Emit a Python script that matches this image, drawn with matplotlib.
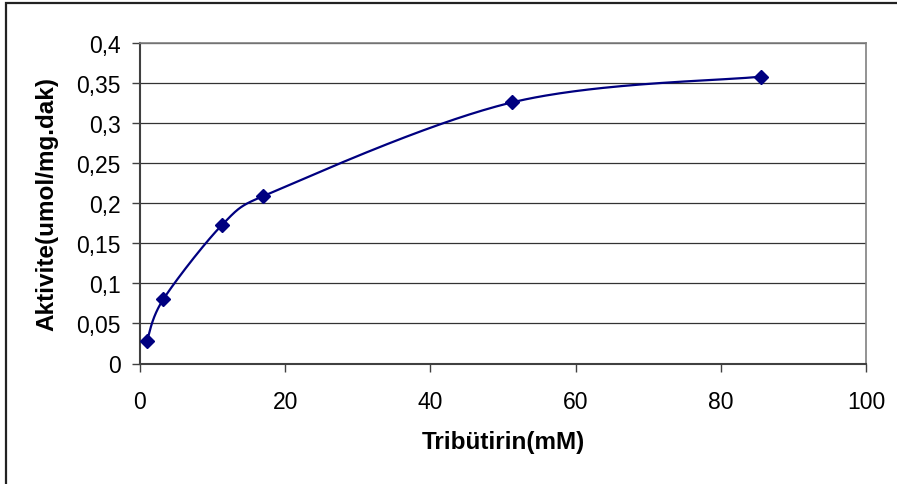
import numpy as np
import matplotlib.pyplot as plt
from matplotlib.patches import Rectangle

plt.rcParams['font.family'] = ['Liberation Sans', 'DejaVu Sans']

# substrate concentration (mM) vs. activity
tributyrin = [0.95, 3.2, 11.3, 17.0, 51.3, 85.5]
activity = [0.028, 0.080, 0.173, 0.209, 0.326, 0.358]


def smooth_curve(ax, x, y, n=80):
    # cubic bezier segments through the points, built in pixel space;
    # handles are (next - prev) / 6, capped at half the segment length
    pts = ax.transData.transform(np.column_stack([x, y]))
    p = np.vstack([pts[0], pts, pts[-1]])
    t = np.linspace(0, 1, n)[:, None]
    out = []
    for i in range(1, len(p) - 2):
        p0, p3 = p[i], p[i + 1]
        seg = np.linalg.norm(p3 - p0)
        h1 = (p3 - p[i - 1]) / 6
        h2 = (p[i + 2] - p0) / 6
        for h in (h1, h2):
            ln = np.linalg.norm(h)
            if ln > 0.5 * seg:
                h *= 0.5 * seg / ln
        c1, c2 = p0 + h1, p3 - h2
        b = ((1 - t) ** 3 * p0 + 3 * (1 - t) ** 2 * t * c1
             + 3 * (1 - t) * t ** 2 * c2 + t ** 3 * p3)
        out.append(b)
    out = ax.transData.inverted().transform(np.vstack(out))
    return out[:, 0], out[:, 1]


fig = plt.figure(figsize=(8.97, 4.85), dpi=100)
ax = fig.add_axes([140 / 897, 1 - 364.5 / 485, 726 / 897, 320.5 / 485])
ax.set_xlim(0, 100)
ax.set_ylim(0, 0.4)

sx, sy = smooth_curve(ax, tributyrin, activity)
ax.plot(sx, sy, color='#000080', lw=1.6, zorder=3)
ax.plot(tributyrin, activity, ls='none', marker='D', ms=7.5,
        color='#000080', zorder=4, clip_on=False)

ax.set_xticks(np.arange(0, 101, 20))
ax.set_yticks(np.arange(0, 0.401, 0.05))
ax.set_yticklabels(['0', '0,05', '0,1', '0,15', '0,2', '0,25', '0,3', '0,35', '0,4'])
ax.yaxis.grid(True, color='#333333', lw=0.9)
ax.set_axisbelow(True)

for side in ['top', 'right']:
    ax.spines[side].set_color('#808080')
    ax.spines[side].set_linewidth(1.2)
for side in ['left', 'bottom']:
    ax.spines[side].set_color('#404040')
    ax.spines[side].set_linewidth(1.5)

ax.tick_params(direction='out', length=6, width=1, color='#404040',
               labelsize=16.5)
ax.tick_params(axis='y', pad=8)
ax.tick_params(axis='x', pad=13)
ax.set_xlabel('Tribütirin(mM)', fontsize=17.5, fontweight='bold', labelpad=12)
ax.set_ylabel('Aktivite(umol/mg.dak)', fontsize=17.5, fontweight='bold', labelpad=13)

# chart area border
fig.patches.append(Rectangle((6 / 897, -0.1), 1.2, 1 - 4 / 485 + 0.1,
                             transform=fig.transFigure, fill=False,
                             edgecolor='#222222', lw=1.6))

fig.savefig('out.png', dpi=100)
